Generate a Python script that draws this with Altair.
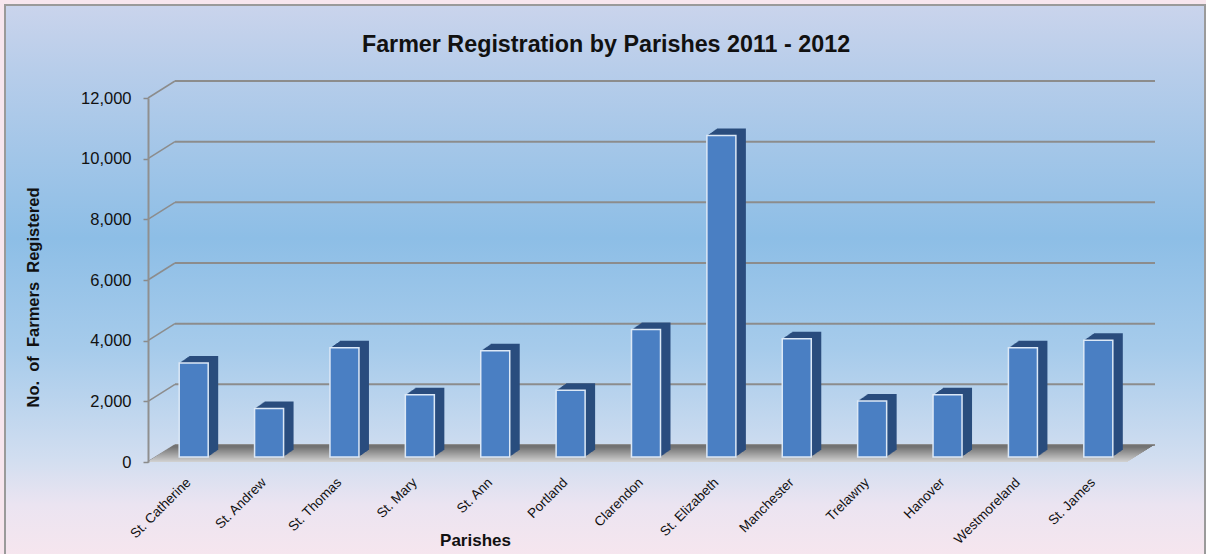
import altair as alt
import pandas as pd

# ---- data ----
parishes = ["St. Catherine", "St. Andrew", "St. Thomas", "St. Mary", "St. Ann",
            "Portland", "Clarendon", "St. Elizabeth", "Manchester", "Trelawny",
            "Hanover", "Westmoreland", "St. James"]
farmers = [3100, 1600, 3600, 2050, 3500, 2200, 4200, 10600, 3900, 1850, 2050, 3600, 3850]
y_ticks = [0, 2000, 4000, 6000, 8000, 10000, 12000]
title_text = ["Farmer Registration by Parishes 2011 - 2012"]

df = pd.DataFrame({"parish": parishes, "farmers": farmers})
ticks_df = pd.DataFrame({"farmers": y_ticks})
one = pd.DataFrame({"farmers": [0], "t": title_text})

W, H = 980, 364
PAD_L, PAD_T = 148, 98
FONT = "Liberation Sans, Arial"

x_axis = alt.Axis(title="Parishes", labelAngle=-45, labelAlign="right",
                  labelBaseline="middle", labelFont=FONT, labelFontSize=13.5,
                  labelColor="#111111", labelPadding=18, labelOffset=3, ticks=False,
                  domain=False, grid=False, labelOverlap=False,
                  titleFont=FONT, titleFontSize=17, titleFontWeight="bold",
                  titleColor="#111111", titleX=327, titleY=78,
                  titleAlign="center", titleBaseline="middle", zindex=1)
x_enc = alt.X("parish:N", sort=parishes,
              scale=alt.Scale(paddingInner=0, paddingOuter=0), axis=x_axis)
y_scale = alt.Scale(domain=[0, 12000], nice=False)
y_axis = alt.Axis(title="No.\u00a0\u00a0of\u00a0\u00a0Farmers\u00a0\u00a0Registered",
                  values=y_ticks, format=",d", labelFont=FONT, labelFontSize=16.5,
                  labelColor="#111111", labelPadding=12, tickSize=5,
                  tickColor="#8a8a8a", tickWidth=1.5, domainColor="#8f8f8f",
                  domainWidth=2, grid=False,
                  titleFont=FONT, titleFontSize=16.5, titleFontWeight="bold",
                  titleColor="#111111", titleX=-115, titleY=199,
                  titleAlign="center", titleBaseline="middle", zindex=1)
y_enc = alt.Y("farmers:Q", scale=y_scale, axis=y_axis)

bg_grad = alt.LinearGradient(
    gradient="linear", x1=0, y1=0, x2=0, y2=1,
    stops=[alt.GradientStop(color="#cad4ec", offset=0),
           alt.GradientStop(color="#b7cdea", offset=0.12),
           alt.GradientStop(color="#8dbee6", offset=0.42),
           alt.GradientStop(color="#a6cbeb", offset=0.62),
           alt.GradientStop(color="#d2def0", offset=0.82),
           alt.GradientStop(color="#ebe4f1", offset=0.9),
           alt.GradientStop(color="#f7e6ee", offset=1)])

background = alt.Chart(one).mark_rect(fill=bg_grad, stroke="#9a9a9a", strokeWidth=2).encode(
    x=alt.value(5 - PAD_L), x2=alt.value(1205 - PAD_L),
    y=alt.value(5 - PAD_T), y2=alt.value(560 - PAD_T))

title = alt.Chart(one).mark_text(font=FONT, fontSize=23.3, fontWeight="bold",
                                 color="#111111", align="center",
                                 baseline="alphabetic").encode(
    text="t:N", x=alt.value(606 - PAD_L), y=alt.value(52 - PAD_T))

DX, DY = 27, -17  # back-wall offset
grid_h = alt.Chart(ticks_df).mark_rule(color="#8c8c8c", strokeWidth=2, yOffset=DY).encode(
    y=y_enc, x=alt.value(DX), x2=alt.value(W + DX))
grid_d = alt.Chart(ticks_df).mark_rule(color="#8c8c8c", strokeWidth=1.5, y2Offset=DY).encode(
    y=y_enc, y2="farmers:Q", x=alt.value(0), x2=alt.value(DX))

layers = [background, title, grid_h, grid_d]

# floor: slanted slab built from 1px rows, dark at the back, light at the front
ROWS = 17
def shade(i):
    t = i / (ROWS - 1)  # 0 = front, 1 = back
    c = int(round(0xcf - (0xcf - 0x72) * min(1.0, t * 1.1)))
    return "#%02x%02x%02x" % (c, c, c)
for i in range(ROWS - 1, -1, -1):
    sx = DX * i / ROWS
    layers.append(alt.Chart(one).mark_rule(color=shade(i), strokeWidth=1.2,
                                           yOffset=-i - 0.5).encode(
        y=y_enc, x=alt.value(sx), x2=alt.value(W + sx)))

BAR_W = 29
FX, FY = 8, -5
DEPTH = 10
for k in range(DEPTH, 0, -1):
    layers.append(
        alt.Chart(df).mark_bar(size=BAR_W, color="#2a4d7e",
                               xOffset=FX + k, yOffset=FY - 0.7 * k,
                               y2Offset=FY - 0.7 * k).encode(x=x_enc, y=y_enc))
front = alt.Chart(df).mark_bar(size=BAR_W, color="#4a7fc3", stroke="#dce8f6",
                               strokeWidth=1.5, xOffset=FX, yOffset=FY,
                               y2Offset=FY).encode(x=x_enc, y=y_enc)
layers.append(front)

chart = alt.layer(*layers).properties(
    width=W, height=H,
    padding={"left": PAD_L, "top": PAD_T, "right": 1206 - PAD_L - W, "bottom": 554 - PAD_T - H},
    autosize=alt.AutoSizeParams(type="none"),
).configure_view(stroke=None).configure(background="#f7e6ee")

chart.save("out.html", embed_options={"renderer": "svg", "actions": False})
